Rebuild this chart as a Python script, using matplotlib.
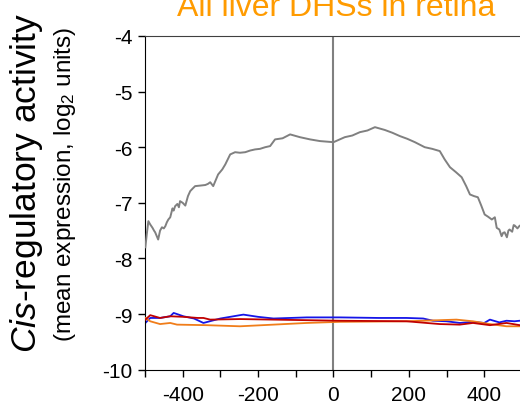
import matplotlib
matplotlib.use('Agg')
import matplotlib.pyplot as plt

plt.rcParams['font.family'] = ['Liberation Sans', 'DejaVu Sans']
plt.rcParams['mathtext.fontset'] = 'custom'
plt.rcParams['mathtext.rm'] = 'Liberation Sans'
plt.rcParams['mathtext.it'] = 'Liberation Sans:italic'
plt.rcParams['axes.unicode_minus'] = False

# gray: all liver DHSs
gray_x = [-499, -495, -491, -486, -480, -476, -473, -465, -460, -455, -450, -446,
          -442, -438, -433, -427, -424, -420, -414, -410, -407, -400, -393, -386,
          -380, -373, -367, -353, -340, -333, -327, -319, -306, -295, -287, -274,
          -261, -248, -234, -221, -208, -195, -181, -168, -155, -135, -115, -89,
          -62, -36, 0, 30, 50, 70, 90, 110, 136, 156, 176, 196, 216, 242, 262,
          282, 295, 309, 325, 340, 352, 362, 373, 383, 392, 401, 410, 420, 428,
          433, 440, 446, 450, 454, 460, 464, 467, 474, 478, 481, 488, 494, 500]
gray_y = [-7.80, -7.55, -7.33, -7.39, -7.45, -7.50, -7.53, -7.66, -7.50, -7.44,
          -7.46, -7.42, -7.35, -7.30, -7.26, -7.10, -7.14, -7.06, -7.02, -7.08,
          -6.97, -7.00, -7.05, -6.88, -6.79, -6.74, -6.70, -6.69, -6.68, -6.66,
          -6.63, -6.70, -6.49, -6.40, -6.31, -6.13, -6.09, -6.10, -6.09, -6.06,
          -6.04, -6.03, -6.00, -5.98, -5.86, -5.84, -5.77, -5.82, -5.86, -5.89,
          -5.91, -5.82, -5.79, -5.73, -5.70, -5.64, -5.69, -5.74, -5.80, -5.85,
          -5.91, -6.00, -6.03, -6.07, -6.22, -6.36, -6.45, -6.54, -6.70, -6.85,
          -6.88, -6.90, -7.05, -7.21, -7.25, -7.30, -7.26, -7.45, -7.48, -7.60,
          -7.54, -7.53, -7.62, -7.50, -7.48, -7.52, -7.40, -7.41, -7.46, -7.41,
          -7.43]

# blue
blue_x = [-499, -486, -460, -433, -424, -415, -398, -370, -345, -300, -248, -239,
          -200, -159, -71, 17, 120, 194, 238, 264, 300, 335, 370, 400, 415, 440,
          459, 480, 494, 500]
blue_y = [-9.16, -9.07, -9.07, -9.04, -8.98, -9.00, -9.04, -9.08, -9.16, -9.08,
          -9.02, -9.01, -9.05, -9.08, -9.06, -9.06, -9.07, -9.07, -9.08, -9.12,
          -9.13, -9.16, -9.14, -9.16, -9.10, -9.15, -9.12, -9.13, -9.12, -9.13]

# red
red_x = [-499, -486, -460, -433, -398, -360, -345, -327, -248, -159, -71, 17,
         194, 264, 282, 335, 370, 415, 459, 494, 500]
red_y = [-9.10, -9.02, -9.07, -9.04, -9.05, -9.07, -9.07, -9.10, -9.09, -9.10,
         -9.11, -9.12, -9.13, -9.17, -9.18, -9.19, -9.16, -9.20, -9.16, -9.20, -9.19]

# orange
orange_x = [-499, -486, -460, -433, -415, -336, -248, -159, -71, 17, 194, 282,
            326, 370, 415, 459, 494, 500]
orange_y = [-9.07, -9.13, -9.18, -9.16, -9.19, -9.20, -9.22, -9.19, -9.16, -9.14,
            -9.13, -9.11, -9.10, -9.13, -9.18, -9.22, -9.22, -9.21]

fig = plt.figure(figsize=(5.2, 4.06), dpi=100)
ax = fig.add_axes([0.2788, 0.087, 0.725, 0.822])

ax.axvline(0, color='#808080', lw=1.5, zorder=1)
ax.plot(gray_x, gray_y, color='#808080', lw=1.4, zorder=3)
ax.plot(orange_x, orange_y, color='#f07d1a', lw=1.3, zorder=3)
ax.plot(red_x, red_y, color='#c00000', lw=1.3, zorder=4)
ax.plot(blue_x, blue_y, color='#1515e8', lw=1.3, zorder=2)

ax.set_xlim(-500, 500)
ax.set_ylim(-10, -4)
ax.set_xticks(range(-500, 501, 100))
ax.set_xticklabels(['' if (v % 200 or abs(v) == 500) else str(v)
                    for v in range(-500, 501, 100)])
ax.set_yticks(range(-10, -3))
ax.tick_params(axis='both', direction='out', length=5, width=1, labelsize=15)
ax.tick_params(axis='x', pad=6)
ax.tick_params(axis='y', pad=4)

ax.spines['right'].set_visible(False)
ax.spines['top'].set_color('#404040')
for s in ['left', 'bottom']:
    ax.spines[s].set_color('black')

fig.text(336 / 520, 0.9606, 'All liver DHSs in retina', color='#ff9b00',
         fontsize=23, ha='center', va='baseline')
fig.text(27 / 520, 0.55, r'$\mathit{Cis}$-regulatory activity', rotation=90,
         fontsize=25.5, ha='center', va='center')
fig.text(65 / 520, 0.545, r'(mean expression, log$_2$ units)', rotation=90,
         fontsize=17.5, ha='center', va='center')

fig.savefig('out.png', dpi=100)
